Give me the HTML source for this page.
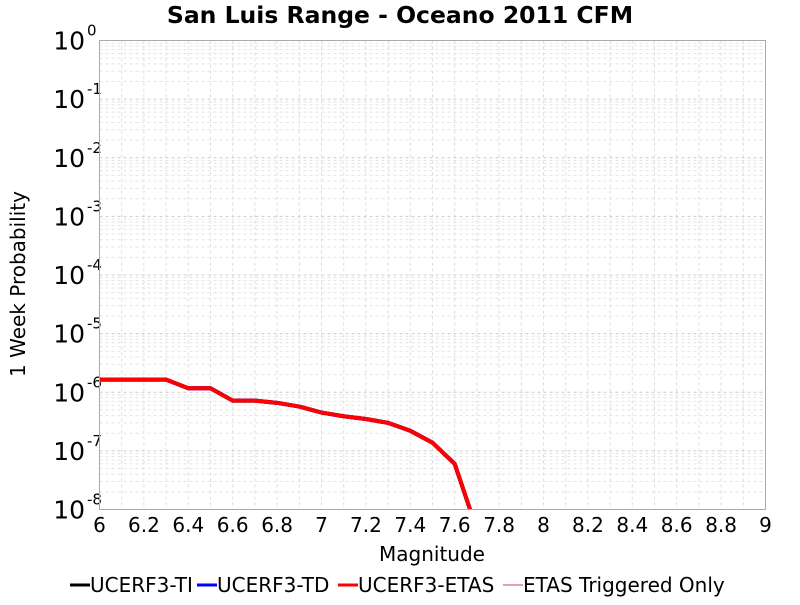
<!DOCTYPE html>
<html><head><meta charset="utf-8"><style>
body{margin:0;background:#fff;font-family:"Liberation Sans","DejaVu Sans",sans-serif}
</style></head><body>
<svg id="chart" width="800" height="600" xmlns="http://www.w3.org/2000/svg" font-family="DejaVu Sans, Liberation Sans, sans-serif">
<text x="400" y="23" text-anchor="middle" font-size="23.5" font-weight="bold">San Luis Range - Oceano 2011 CFM</text>
<g id="grid"></g>
<g id="axes"></g>
<defs><clipPath id="clip"><rect x="99" y="40" width="666" height="469"/></clipPath></defs>
<g id="series" clip-path="url(#clip)"></g>
<rect x="99.5" y="40.5" width="666" height="469" fill="none" stroke="#aaa" stroke-width="1"/>
<text x="432" y="561" text-anchor="middle" font-size="20">Magnitude</text>
<text transform="translate(25,284) rotate(-90)" text-anchor="middle" font-size="20">1 Week Probability</text>
<g font-size="20">
<g><line x1="70" y1="585" x2="90" y2="585" stroke="#000" stroke-width="3"/><text x="90" y="592">UCERF3-TI</text></g>
<g><line x1="197" y1="585" x2="217" y2="585" stroke="#00f" stroke-width="3"/><text x="217" y="592">UCERF3-TD</text></g>
<g><line x1="338" y1="585" x2="358" y2="585" stroke="#f00" stroke-width="3"/><text x="358" y="592">UCERF3-ETAS</text></g>
<g><line x1="503" y1="585" x2="523" y2="585" stroke="#c04060" stroke-width="1"/><text x="523" y="592">ETAS Triggered Only</text></g>
</g>
</svg>
<script>
const mags=[6.0,6.1,6.2,6.3,6.4,6.5,6.6,6.7,6.8,6.9,7.0,7.1,7.2,7.3,7.4,7.5,7.6,7.7];
const probTI=[1.64e-6,1.64e-6,1.64e-6,1.64e-6,1.17e-6,1.17e-6,7.2e-7,7.2e-7,6.6e-7,5.7e-7,4.5e-7,3.9e-7,3.5e-7,3.0e-7,2.2e-7,1.38e-7,6.0e-8,4.5e-9];
const probTD=[1.64e-6,1.64e-6,1.64e-6,1.64e-6,1.17e-6,1.17e-6,7.2e-7,7.2e-7,6.6e-7,5.7e-7,4.5e-7,3.9e-7,3.5e-7,3.0e-7,2.2e-7,1.38e-7,6.0e-8,4.5e-9];
const probETAS=[1.64e-6,1.64e-6,1.64e-6,1.64e-6,1.17e-6,1.17e-6,7.2e-7,7.2e-7,6.6e-7,5.7e-7,4.5e-7,3.9e-7,3.5e-7,3.0e-7,2.2e-7,1.38e-7,6.0e-8,4.5e-9];
const xTicks=[6,6.2,6.4,6.6,6.8,7,7.2,7.4,7.6,7.8,8,8.2,8.4,8.6,8.8,9];
const yExps=[0,-1,-2,-3,-4,-5,-6,-7,-8];
const X0=99.5,X1=765.5,Y0=40.5,Y1=509.5;
const xs=v=>X0+(v-6)/3*(X1-X0);
const ys=v=>Y0+(-Math.log10(v))/8*(Y1-Y0);
const NS="http://www.w3.org/2000/svg";
function mk(t,a,p){const e=document.createElementNS(NS,t);for(const k in a)e.setAttribute(k,a[k]);p.appendChild(e);return e;}
const grid=document.getElementById('grid'),axes=document.getElementById('axes'),ser=document.getElementById('series');
for(let i=0;i<=30;i++){const x=xs(6+i*0.1);
const l=mk('line',{x1:x,x2:x,y1:Y0,y2:Y1,stroke:'#ddd','stroke-dasharray':'3,3'},grid);
}
for(let d=0;d<8;d++){for(let m=1;m<=9;m++){const y=ys(Math.pow(10,-d-1)*m);
const l=mk('line',{x1:X0,x2:X1,y1:y,y2:y,stroke:m==1?'#ccc':'#e4e4e4','stroke-dasharray':'3,3'},grid);
}}
xTicks.forEach(v=>{const t=mk('text',{x:xs(v),y:532,'text-anchor':'middle','font-size':20},axes);t.textContent=String(v);
});
yExps.forEach(e=>{const y=ys(Math.pow(10,e));const t=mk('text',{x:85,y:y+9,'font-size':25,'text-anchor':'end'},axes);t.textContent='10';

const s=mk('text',{x:87,y:y-5,'font-size':15},axes);s.textContent=String(e);
});
function line(arr,color,w,name){const p=mk('polyline',{points:mags.map((m,i)=>xs(m)+','+ys(arr[i])).join(' '),fill:'none',stroke:color,'stroke-width':w,'stroke-linejoin':'round'},ser);
}
line(probTI,'#000',4,'series-ucerf3-ti');
line(probTD,'#00f',4,'series-ucerf3-td');
line(probETAS,'#f00',4,'series-ucerf3-etas');
</script>
</body></html>
